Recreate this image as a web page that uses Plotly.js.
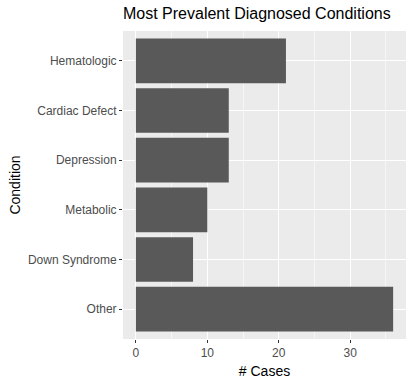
<!DOCTYPE html>
<html><head><meta charset="utf-8">
<script src="https://cdn.plot.ly/plotly-3.0.1.min.js"></script>
<style>html,body{margin:0;padding:0;background:#fff}#chart{width:413px;height:384px}</style>
</head><body><div id="chart"></div>
<script>
const conditions = ["Other", "Down Syndrome", "Metabolic", "Depression", "Cardiac Defect", "Hematologic"];
const cases = [36, 8, 10, 13, 13, 21];
const xTicks = [0, 10, 20, 30];

const trace = {
  type: "bar", orientation: "h",
  x: cases, y: conditions,
  marker: {color: "#595959"},
  width: 0.9, hoverinfo: "x+y"
};
const layout = {
  width: 413, height: 384,
  margin: {l: 123, r: 7, t: 31, b: 45, pad: 0},
  paper_bgcolor: "#ffffff", plot_bgcolor: "#EBEBEB",
  font: {family: "Liberation Sans, Arial, sans-serif", color: "#4D4D4D", size: 12},
  title: {text: "Most Prevalent Diagnosed Conditions", x: 0, xref: "paper", xanchor: "left",
          y: 1, yref: "container", yanchor: "top", pad: {t: 8},
          font: {size: 16, color: "#000000"}},
  xaxis: {
    range: [-1.8, 37.8], tickvals: xTicks, ticktext: xTicks.map(String),
    showgrid: true, gridcolor: "#FFFFFF", gridwidth: 1.1, zeroline: false,
    ticks: "outside", ticklen: 3, tickwidth: 1.1, tickcolor: "#333333",
    tickfont: {size: 12, color: "#4D4D4D"},
    minor: {tickvals: [5, 15, 25, 35], showgrid: true, gridcolor: "#FFFFFF", gridwidth: 0.55, ticks: ""},
    title: {text: "# Cases", font: {size: 14, color: "#000000"}, standoff: 6},
    showline: false, fixedrange: true
  },
  yaxis: {
    type: "category", categoryorder: "array", categoryarray: conditions,
    range: [-0.6, 5.6],
    showgrid: true, gridcolor: "#FFFFFF", gridwidth: 1.1, zeroline: false,
    ticks: "outside", ticklen: 3, tickwidth: 1.1, tickcolor: "#333333",
    tickfont: {size: 12, color: "#4D4D4D"},
    title: {text: "Condition", font: {size: 14, color: "#000000"}, standoff: 3},
    showline: false, fixedrange: true
  },
  bargap: 0.1, showlegend: false
};
Plotly.newPlot("chart", [trace], layout, {displayModeBar: false, staticPlot: true});
</script></body></html>
